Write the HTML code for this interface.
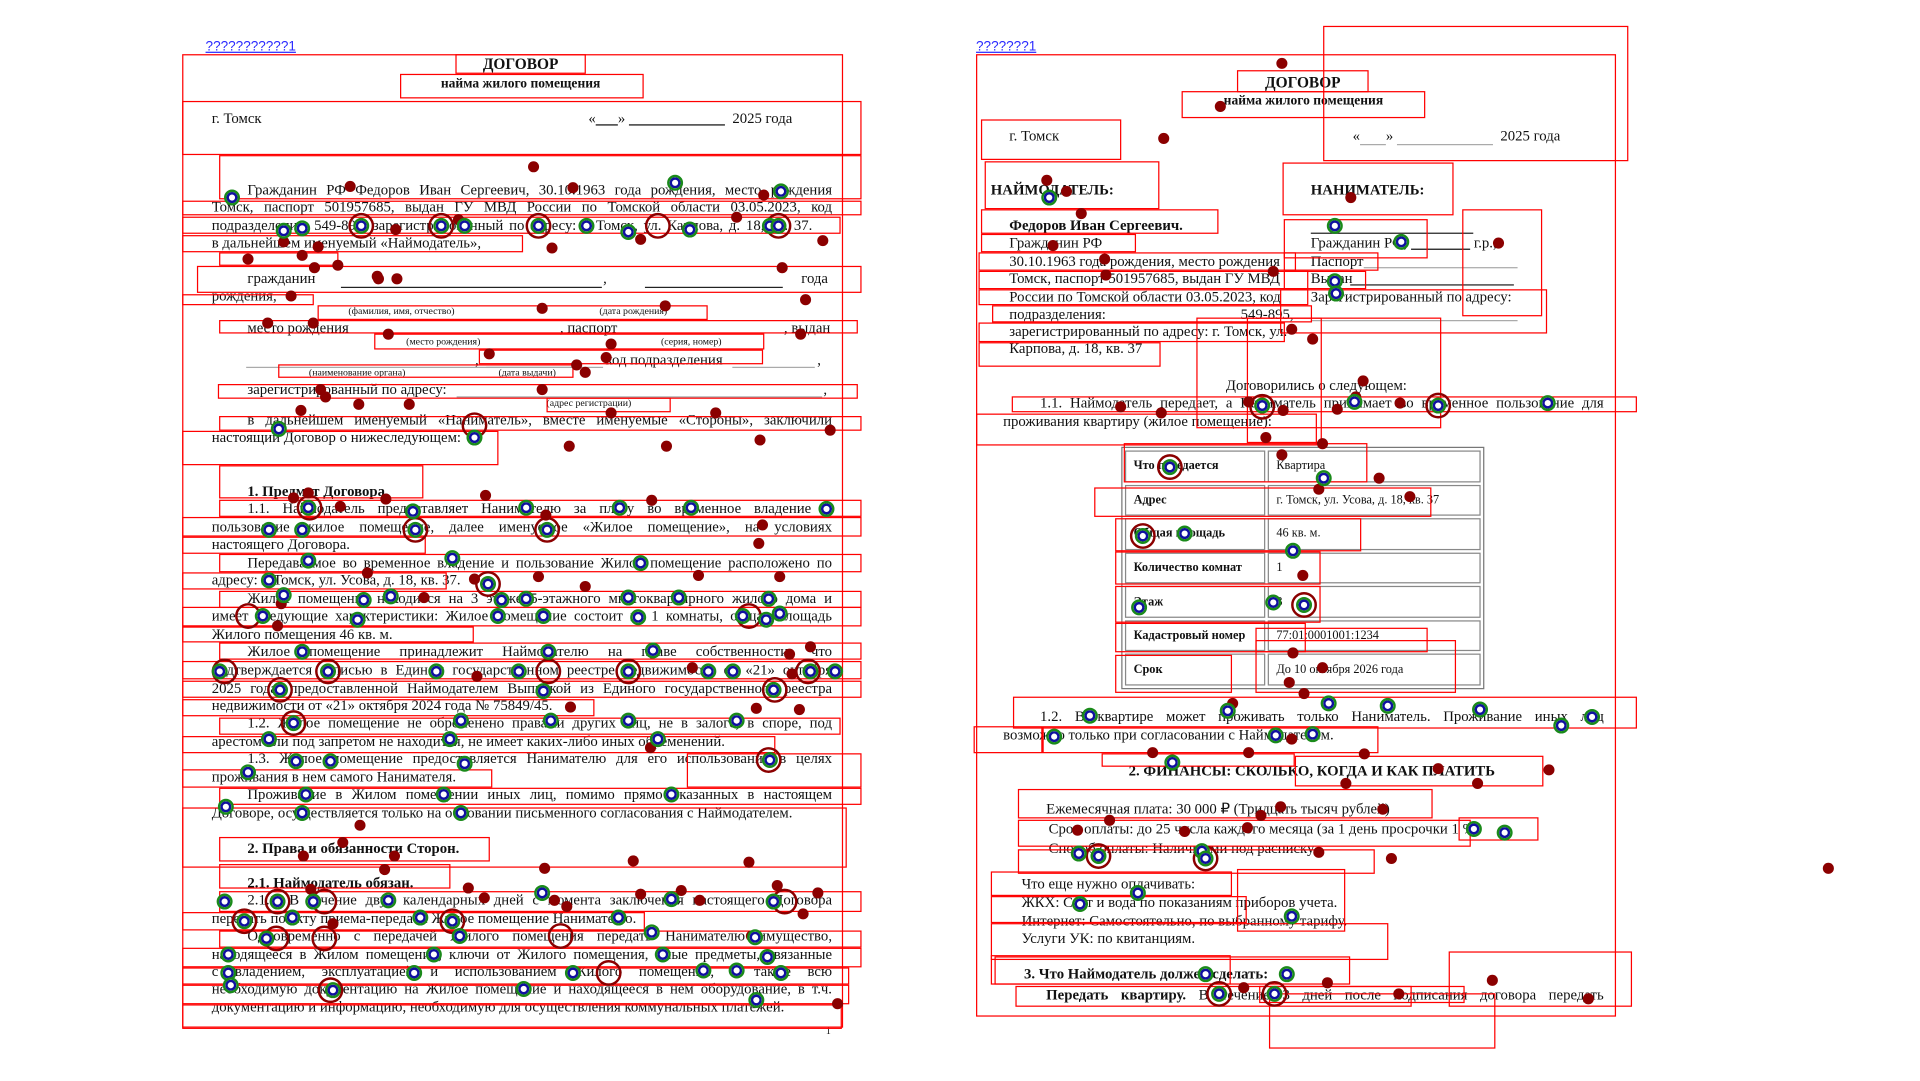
<!DOCTYPE html>
<html><head><meta charset="utf-8">
<style>
html,body{margin:0;padding:0;background:#fff;}
body{width:1920px;height:1080px;overflow:hidden;position:relative;}
#stage{position:absolute;left:0;top:0;width:1560px;height:878px;transform:scale(1.2308);transform-origin:0 0;font-family:"Liberation Serif","Noto Serif CJK SC",serif;color:#111;}
.t{position:absolute;font-size:12px;line-height:14px;white-space:nowrap;}
.j{text-align:justify;text-align-last:justify;white-space:normal;height:14px;overflow:hidden;}
.b{font-weight:bold;}
.s{font-size:8px;line-height:10px;}
.u{position:absolute;height:0;border-top:1px solid #222;}
.ug{position:absolute;height:0;border-top:1px solid #aaa;}
.hdr{position:absolute;font-family:"Liberation Sans",sans-serif;font-size:11px;color:#2a2aff;text-decoration:underline;}
table.tb{position:absolute;left:911px;top:363px;width:295px;height:197px;border-collapse:separate;border-spacing:2px;border:1px solid #777;font-size:10px;}
table.tb td{border:1px solid #888;padding:0 6px;height:23px;}
.box{position:absolute;border:1px solid #f00;box-sizing:border-box;}
.dot{position:absolute;width:9px;height:9px;margin:-4.5px 0 0 -4.5px;border-radius:50%;background:#8b0000;}
.ring{position:absolute;width:9px;height:9px;margin:-6.5px 0 0 -6.5px;border-radius:50%;border:2px solid #1a8a1a;background:#fff;box-shadow:inset 0 0 0 2px #1010a0;}
.rring{position:absolute;width:17px;height:17px;margin:-10.5px 0 0 -10.5px;border-radius:50%;border:2px solid #8b0000;}
</style></head><body>
<div id="stage">

<!-- LEFT PAGE -->
<div>
<div class="hdr" style="left:167px;top:32px">???????????1</div>
<div class="t b" style="left:0;width:846px;text-align:center;top:45px;font-size:12.5px">ДОГОВОР</div>
<div class="t b" style="left:0;width:846px;text-align:center;top:61px;font-size:11px">найма жилого помещения</div>
<div class="t" style="left:172px;top:89px">г. Томск</div>
<div class="t" style="left:478px;top:89px">«<u>&nbsp;&nbsp;&nbsp;&nbsp;&nbsp;&nbsp;</u>» <u>&nbsp;&nbsp;&nbsp;&nbsp;&nbsp;&nbsp;&nbsp;&nbsp;&nbsp;&nbsp;&nbsp;&nbsp;&nbsp;&nbsp;&nbsp;&nbsp;&nbsp;&nbsp;&nbsp;&nbsp;&nbsp;&nbsp;&nbsp;&nbsp;&nbsp;&nbsp;</u>&nbsp;&nbsp;2025 года</div>

<div class="t j" style="left:201px;width:475px;top:147px">Гражданин РФ Федоров Иван Сергеевич, 30.10.1963 года рождения, место рождения</div>
<div class="t j" style="left:172px;width:504px;top:161px">Томск, паспорт 501957685, выдан ГУ МВД России по Томской области 03.05.2023, код</div>
<div class="t j" style="left:172px;width:488px;top:176px">подразделения: 549-895, зарегистрированный по адресу: г. Томск, ул. Карпова, д. 18, кв. 37.</div>
<div class="t" style="left:172px;top:190px">в дальнейшем именуемый «Наймодатель»,</div>

<div class="t" style="left:201px;top:219px">гражданин</div>
<div class="u" style="left:277px;width:212px;top:233px"></div>
<div class="t" style="left:490px;top:219px">,</div>
<div class="u" style="left:524px;width:112px;top:233px"></div>
<div class="t" style="left:651px;top:219px">года</div>
<div class="t" style="left:172px;top:233px">рождения,</div>
<div class="t s" style="left:283px;top:248px">(фамилия, имя, отчество)</div>
<div class="t s" style="left:487px;top:248px">(дата рождения)</div>
<div class="t" style="left:201px;top:259px">место рождения</div>
<div class="t" style="left:455px;top:259px">, паспорт</div>
<div class="t" style="left:637px;top:259px">, выдан</div>
<div class="t s" style="left:330px;top:273px">(место рождения)</div>
<div class="t s" style="left:537px;top:273px">(серия, номер)</div>
<div class="ug" style="left:200px;width:270px;top:298px"></div>
<div class="t" style="left:386px;top:285px">,</div>
<div class="ug" style="left:395px;width:95px;top:298px"></div>
<div class="t" style="left:492px;top:285px">код подразделения</div>
<div class="ug" style="left:595px;width:67px;top:298px"></div>
<div class="t" style="left:664px;top:285px">,</div>
<div class="t s" style="left:251px;top:298px">(наименование органа)</div>
<div class="t s" style="left:405px;top:298px">(дата выдачи)</div>
<div class="t" style="left:201px;top:309px">зарегистрированный по адресу:</div>
<div class="ug" style="left:371px;width:297px;top:322px"></div>
<div class="t" style="left:669px;top:309px">,</div>
<div class="t s" style="left:444px;top:323px">(адрес регистрации)</div>
<div class="t j" style="left:201px;width:475px;top:334px">в дальнейшем именуемый «Наниматель», вместе именуемые «Стороны», заключили</div>
<div class="t" style="left:172px;top:348px">настоящий Договор о нижеследующем:</div>

<div class="t b" style="left:201px;top:392px">1. Предмет Договора.</div>
<div class="t j" style="left:201px;width:475px;top:406px">1.1. Наймодатель предоставляет Нанимателю за плату во временное владение и</div>
<div class="t j" style="left:172px;width:504px;top:421px">пользование жилое помещение, далее именуемое «Жилое помещение», на условиях</div>
<div class="t" style="left:172px;top:435px">настоящего Договора.</div>
<div class="t j" style="left:201px;width:475px;top:450px">Передаваемое во временное владение и пользование Жилое помещение расположено по</div>
<div class="t" style="left:172px;top:464px">адресу: г. Томск, ул. Усова, д. 18, кв. 37.</div>
<div class="t j" style="left:201px;width:475px;top:479px">Жилое помещение находится на 3 этаже 5-этажного многоквартирного жилого дома и</div>
<div class="t j" style="left:172px;width:504px;top:493px">имеет следующие характеристики: Жилое помещение состоит из 1 комнаты, общая площадь</div>
<div class="t" style="left:172px;top:508px">Жилого помещения 46 кв. м.</div>
<div class="t j" style="left:201px;width:475px;top:522px">Жилое помещение принадлежит Наймодателю на праве собственности, что</div>
<div class="t j" style="left:172px;width:504px;top:537px">подтверждается записью в Едином государственном реестре недвижимости от «21» октября</div>
<div class="t j" style="left:172px;width:504px;top:552px">2025 года, предоставленной Наймодателем Выпиской из Единого государственного реестра</div>
<div class="t" style="left:172px;top:566px">недвижимости от «21» октября 2024 года № 75849/45.</div>
<div class="t j" style="left:201px;width:475px;top:580px">1.2. Жилое помещение не обременено правами других лиц, не в залоге, в споре, под</div>
<div class="t" style="left:172px;top:595px">арестом или под запретом не находится, не имеет каких-либо иных обременений.</div>
<div class="t j" style="left:201px;width:475px;top:609px">1.3. Жилое помещение предоставляется Нанимателю для его использования в целях</div>
<div class="t" style="left:172px;top:624px">проживания в нем самого Нанимателя.</div>
<div class="t j" style="left:201px;width:475px;top:638px">Проживание в Жилом помещении иных лиц, помимо прямо указанных в настоящем</div>
<div class="t" style="left:172px;top:653px">Договоре, осуществляется только на основании письменного согласования с Наймодателем.</div>

<div class="t b" style="left:201px;top:682px">2. Права и обязанности Сторон.</div>
<div class="t b" style="left:201px;top:710px">2.1. Наймодатель обязан.</div>
<div class="t j" style="left:201px;width:475px;top:724px">2.1.1. В течение двух календарных дней с момента заключения настоящего Договора</div>
<div class="t" style="left:172px;top:739px">передать по акту приема-передачи Жилое помещение Нанимателю.</div>
<div class="t j" style="left:201px;width:475px;top:753px">Одновременно с передачей Жилого помещения передать Нанимателю имущество,</div>
<div class="t j" style="left:172px;width:504px;top:768px">находящееся в Жилом помещении, ключи от Жилого помещения, иные предметы, связанные</div>
<div class="t j" style="left:172px;width:504px;top:782px">с владением, эксплуатацией и использованием Жилого помещения, а также всю</div>
<div class="t j" style="left:172px;width:504px;top:796px">необходимую документацию на Жилое помещение и находящееся в нем оборудование, в т.ч.</div>
<div class="t" style="left:172px;top:811px">документацию и информацию, необходимую для осуществления коммунальных платежей.</div>
<div class="t s" style="left:671px;top:833px">1</div>
</div>

<!-- RIGHT PAGE -->
<div>
<div class="hdr" style="left:793px;top:32px">???????1</div>
<div class="t b" style="left:1005px;width:107px;text-align:center;top:60px;font-size:12.5px">ДОГОВОР</div>
<div class="t b" style="left:960px;width:198px;text-align:center;top:75px;font-size:11px">найма жилого помещения</div>
<div class="t" style="left:820px;top:103px">г. Томск</div>
<div class="t" style="left:1099px;top:103px">«<span style="border-bottom:1px solid #aaa">&nbsp;&nbsp;&nbsp;&nbsp;&nbsp;&nbsp;&nbsp;</span>» <span style="border-bottom:1px solid #aaa">&nbsp;&nbsp;&nbsp;&nbsp;&nbsp;&nbsp;&nbsp;&nbsp;&nbsp;&nbsp;&nbsp;&nbsp;&nbsp;&nbsp;&nbsp;&nbsp;&nbsp;&nbsp;&nbsp;&nbsp;&nbsp;&nbsp;&nbsp;&nbsp;&nbsp;&nbsp;</span>&nbsp;&nbsp;2025 года</div>
<div class="t b" style="left:805px;top:147px">НАЙМОДАТЕЛЬ:</div>
<div class="t b" style="left:1065px;top:147px">НАНИМАТЕЛЬ:</div>
<div class="t b" style="left:820px;top:176px">Федоров Иван Сергеевич.</div>
<div class="t" style="left:820px;top:190px">Гражданин РФ</div>
<div class="t" style="left:820px;top:205px">30.10.1963 года рождения, место рождения</div>
<div class="t" style="left:820px;top:219px">Томск, паспорт 501957685, выдан ГУ МВД</div>
<div class="t" style="left:820px;top:234px">России по Томской области 03.05.2023, код</div>
<div class="t" style="left:820px;top:248px">подразделения:</div>
<div class="t" style="left:1008px;top:248px">549-895,</div>
<div class="t" style="left:820px;top:262px">зарегистрированный по адресу: г. Томск, ул.</div>
<div class="t" style="left:820px;top:276px">Карпова, д. 18, кв. 37</div>
<div class="u" style="left:1065px;width:132px;top:189px"></div>
<div class="t" style="left:1065px;top:190px">Гражданин РФ, <u>&nbsp;&nbsp;&nbsp;&nbsp;&nbsp;&nbsp;&nbsp;&nbsp;&nbsp;&nbsp;&nbsp;&nbsp;&nbsp;&nbsp;&nbsp;&nbsp;</u> г.р.,</div>
<div class="t" style="left:1065px;top:205px">Паспорт</div>
<div class="ug" style="left:1108px;width:125px;top:217px"></div>
<div class="t" style="left:1065px;top:219px">Выдан</div>
<div class="u" style="left:1097px;width:133px;top:231px"></div>
<div class="t" style="left:1065px;top:234px">Зарегистрированный по адресу:</div>
<div class="ug" style="left:1065px;width:168px;top:260px"></div>

<div class="t" style="left:996px;top:306px">Договорились о следующем:</div>
<div class="t j" style="left:845px;width:458px;top:320px">1.1. Наймодатель передает, а Наниматель принимает во временное пользование для</div>
<div class="t" style="left:815px;top:335px">проживания квартиру (жилое помещение):</div>

<table class="tb">
<tr><td class="b" style="width:100px">Что передается</td><td>Квартира</td></tr>
<tr><td class="b">Адрес</td><td>г. Томск, ул. Усова, д. 18, кв. 37</td></tr>
<tr><td class="b">Общая площадь</td><td>46 кв. м.</td></tr>
<tr><td class="b">Количество комнат</td><td>1</td></tr>
<tr><td class="b">Этаж</td><td>3</td></tr>
<tr><td class="b">Кадастровый номер</td><td>77:01:0001001:1234</td></tr>
<tr><td class="b">Срок</td><td>До 10 октября 2026 года</td></tr>
</table>

<div class="t j" style="left:845px;width:458px;top:575px">1.2. В квартире может проживать только Наниматель. Проживание иных лиц</div>
<div class="t" style="left:815px;top:590px">возможно только при согласовании с Наймодателем.</div>
<div class="t b" style="left:917px;top:619px">2. ФИНАНСЫ: СКОЛЬКО, КОГДА И КАК ПЛАТИТЬ</div>
<div class="t" style="left:850px;top:650px">Ежемесячная плата: 30 000 ₽ (Тридцать тысяч рублей)</div>
<div class="t" style="left:852px;top:666px">Срок оплаты: до 25 числа каждого месяца (за 1 день просрочки 1 %</div>
<div class="t" style="left:852px;top:682px">Способ оплаты: Наличными под расписку.</div>
<div class="t" style="left:830px;top:711px">Что еще нужно оплачивать:</div>
<div class="t" style="left:830px;top:726px">ЖКХ: Свет и вода по показаниям приборов учета.</div>
<div class="t" style="left:830px;top:741px">Интернет: Самостоятельно, по выбранному тарифу.</div>
<div class="t" style="left:830px;top:755px">Услуги УК: по квитанциям.</div>
<div class="t b" style="left:832px;top:784px">3. Что Наймодатель должен сделать:</div>
<div class="t j" style="left:850px;width:453px;top:801px"><b>Передать квартиру.</b> В течение 3 дней после подписания договора передать</div>
</div>

<div id="overlay"></div>
</div>

<script>
const boxes = [
[148,44,685,835],[370,44,476,60],[325,60,523,80],[148,82,700,126],[178,126,700,162],[148,163,700,175],[148,176,683,190],[148,191,425,205],[178,205,275,216],[160,216,700,238],[148,239,255,248],[258,248,575,260],[178,260,697,271],[304,271,621,284],[389,284,620,296],[226,296,466,307],[177,312,697,324],[444,323,545,335],[178,338,700,350],[148,350,405,378],[178,378,344,405],[178,406,700,420],[148,420,700,436],[148,436,346,450],[178,450,700,465],[148,465,363,479],[178,480,700,494],[148,493,700,509],[148,509,385,522],[178,522,700,536],[148,537,700,552],[148,553,700,567],[148,568,483,582],[178,583,683,597],[148,598,630,612],[558,612,700,640],[148,625,400,640],[178,640,700,654],[148,656,688,705],[178,680,398,700],[178,702,366,722],[178,724,700,741],[148,741,524,756],[178,756,700,770],[148,770,700,786],[148,786,690,800],[148,800,690,816],[148,816,684,836],
[793,44,1313,826],[1075,21,1323,131],[1005,57,1112,75],[960,74,1158,96],[797,97,911,130],[800,131,942,170],[1042,132,1181,175],[797,170,990,190],[797,190,923,205],[1043,178,1160,210],[1188,170,1253,257],[795,205,1053,220],[1043,205,1120,220],[795,220,1063,235],[1043,220,1110,235],[795,235,1063,248],[1040,235,1257,271],[806,248,1066,262],[795,262,1044,278],[795,278,943,298],[972,258,1171,348],[1013,258,1074,360],[822,322,1330,335],[793,336,1070,362],[889,396,1163,420],[913,360,1111,392],[906,421,1106,448],[906,448,1073,475],[906,476,1073,506],[906,506,1061,530],[1020,510,1160,530],[906,532,1001,563],[1020,520,1183,563],[823,566,1330,592],[791,590,847,612],[847,590,1120,612],[895,612,1052,623],[1052,614,1254,639],[827,641,1164,665],[827,666,1195,688],[1185,664,1250,683],[827,690,1117,710],[805,708,1001,728],[805,728,1013,750],[805,750,1128,780],[805,776,1000,800],[1005,706,1093,757],[808,777,1097,800],[825,801,1147,818],[1031,807,1215,852],[1177,773,1326,818],[1023,801,1190,815]
];
const dots = [
[433,135],[284,151],[465,152],[620,158],[321,186],[372,178],[230,196],[201,210],[245,207],[255,217],[306,224],[322,226],[274,215],[258,200],[448,201],[520,194],[635,217],[598,176],[668,195],[236,240],[307,226],[440,250],[540,248],[654,243],[217,262],[254,262],[315,271],[397,287],[496,279],[650,271],[475,302],[468,296],[492,290],[440,316],[264,322],[291,328],[332,328],[244,333],[260,316],[581,335],[496,335],[462,362],[541,362],[617,357],[674,349],[250,400],[313,405],[394,402],[443,418],[529,406],[619,426],[616,441],[238,404],[276,411],[385,470],[437,468],[475,476],[567,467],[633,468],[298,465],[344,485],[225,508],[228,490],[387,549],[658,525],[641,531],[643,547],[562,542],[614,575],[463,574],[528,607],[649,576],[442,705],[514,699],[608,700],[312,706],[292,670],[246,695],[278,684],[320,695],[252,722],[380,721],[520,726],[553,723],[568,731],[631,719],[450,731],[460,736],[652,742],[270,750],[393,729],[664,725],[610,760],[680,815],
[1041,51],[991,86],[945,112],[850,146],[866,155],[878,173],[1097,160],[1217,197],[855,199],[897,210],[1034,220],[898,223],[1049,267],[1066,275],[1074,360],[1028,355],[1107,309],[1101,322],[1042,333],[1086,332],[1014,326],[943,335],[910,330],[1137,327],[1145,403],[1120,388],[1071,397],[1041,369],[1058,467],[1050,530],[1059,563],[1047,554],[1074,542],[1001,571],[936,611],[1049,600],[1014,611],[1108,612],[1071,692],[875,674],[901,666],[962,675],[1024,662],[1040,655],[1123,657],[1168,624],[1258,625],[1200,636],[1130,697],[1013,672],[1093,636],[1010,802],[1078,798],[1136,807],[1212,796],[1290,811],[1485,705]
];
const rings = [
[188,160],[548,148],[634,155],[230,187],[245,185],[293,183],[358,183],[377,183],[437,183],[476,183],[510,188],[560,186],[625,183],[632,183],[385,355],[226,348],[250,412],[335,415],[427,412],[503,412],[561,412],[671,413],[218,430],[245,430],[337,430],[444,430],[250,455],[367,453],[520,457],[218,471],[396,474],[230,483],[295,487],[317,484],[407,487],[427,486],[510,485],[551,485],[624,486],[633,498],[213,500],[290,503],[404,500],[441,500],[518,501],[603,500],[622,503],[245,529],[445,529],[530,528],[178,545],[266,545],[354,545],[421,545],[510,545],[575,545],[595,545],[658,545],[678,545],[227,560],[441,561],[628,560],[238,587],[374,585],[447,585],[510,585],[598,585],[218,600],[365,600],[534,600],[240,618],[268,618],[377,620],[625,617],[201,627],[248,645],[360,645],[545,645],[183,655],[245,660],[374,660],[182,732],[225,732],[254,732],[315,731],[440,725],[545,730],[628,732],[198,748],[237,745],[341,745],[367,748],[502,745],[216,762],[373,760],[529,757],[613,761],[185,775],[352,775],[538,775],[623,777],[185,790],[336,790],[465,790],[571,788],[598,788],[634,790],[187,800],[270,804],[425,803],[614,812],
[852,160],[1084,183],[1138,196],[1084,228],[1085,238],[1168,329],[1100,326],[1257,327],[1025,329],[950,379],[1075,388],[928,435],[962,433],[1050,447],[925,493],[1034,489],[1059,491],[1079,571],[885,581],[997,577],[1127,573],[1202,576],[1268,589],[1293,582],[856,598],[1036,597],[1066,596],[952,619],[1197,673],[1222,676],[876,693],[892,695],[976,691],[979,697],[877,734],[1049,744],[924,725],[990,807],[1035,807],[979,791],[1045,791]
];
const redRings = [
[293,183],[358,183],[437,183],[534,183],[632,183],[385,345],[251,412],[337,430],[444,430],[396,474],[201,500],[608,500],[182,545],[266,545],[510,545],[445,545],[656,545],[227,560],[629,560],[238,587],[624,617],[225,732],[263,732],[637,732],[198,748],[367,748],[455,760],[263,762],[224,762],[494,790],[268,804],
[1168,329],[1025,330],[950,379],[928,435],[1059,491],[892,695],[979,697],[990,807],[1035,807]
];
const ov = document.getElementById('overlay');
boxes.forEach(function(b, i){
  const el = document.createElement('div');
  el.className = 'box';
  el.style.left = b[0] + 'px'; el.style.top = b[1] + 'px';
  el.style.width = (b[2] - b[0]) + 'px'; el.style.height = (b[3] - b[1]) + 'px';
  
  
  ov.appendChild(el);
});
dots.forEach(function(d){
  const el = document.createElement('div');
  el.className = 'dot';
  el.style.left = d[0] + 'px'; el.style.top = d[1] + 'px';
  
  
  ov.appendChild(el);
});
redRings.forEach(function(d){
  const el = document.createElement('div');
  el.className = 'rring';
  el.style.left = d[0] + 'px'; el.style.top = d[1] + 'px';
  
  
  ov.appendChild(el);
});
rings.forEach(function(d){
  const el = document.createElement('div');
  el.className = 'ring';
  el.style.left = d[0] + 'px'; el.style.top = d[1] + 'px';
  
  
  ov.appendChild(el);
});
</script>
</body></html>
